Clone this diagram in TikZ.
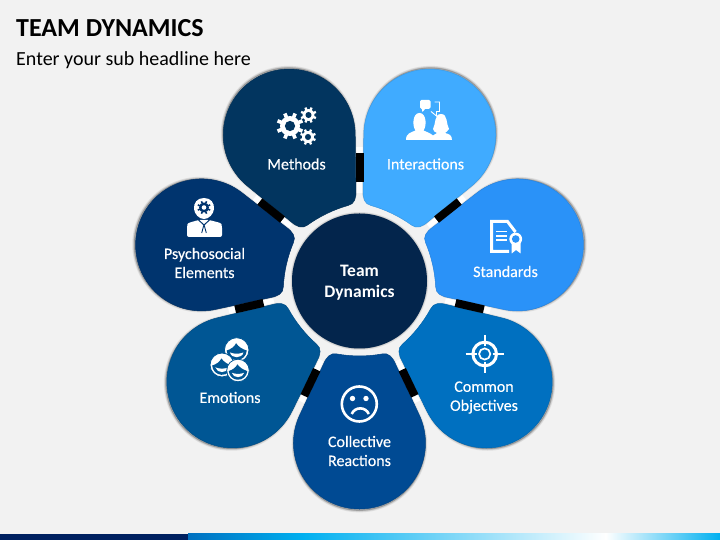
\documentclass[tikz,border=0pt]{standalone}
\usepackage{fontspec}
\setmainfont{Carlito}
\newfontfamily\labfont{Carlito}[BoldFont=Carlito,BoldFeatures={FakeBold=0.35}]
\usetikzlibrary{calc}
\definecolor{bgc}{HTML}{F2F2F2}
\definecolor{cMeth}{HTML}{02355F}
\definecolor{cInter}{HTML}{40ABFF}
\definecolor{cStand}{HTML}{2A92F8}
\definecolor{cComm}{HTML}{0070C0}
\definecolor{cColl}{HTML}{004A93}
\definecolor{cEmo}{HTML}{005694}
\definecolor{cPsy}{HTML}{00346E}
\definecolor{cHub}{HTML}{03254C}
\definecolor{cNavy}{HTML}{002060}
\definecolor{cCyan}{HTML}{00B0F0}
\tikzset{
  lab/.style={text=white,align=center,font=\labfont\bfseries\fontsize{16}{19}\selectfont,inner sep=0pt},
  hublab/.style={text=white,align=center,font=\bfseries\fontsize{17.5}{21}\selectfont,inner sep=0pt},
  barline/.style={draw=black,line width=8pt},
  barhalo/.style={draw=white,line width=7.5pt},
}
\newcommand{\petalshape}{(59.47,133.37) arc (-25.71:205.71:66) -- (-36.2,83.5) .. controls (-33,76) and (-29,71.5) .. (-22.5,73) .. controls (-8,75.6) and (8,75.6) .. (22.5,73) .. controls (29,71.5) and (33,76) .. (36.2,83.5) -- cycle}
\newcommand{\petal}[2]{%
  \begin{scope}[shift={(hub)},rotate=#1]
    \foreach \w in {3.5,2,.8}{\fill[black,opacity=.08,draw=black,line width=\w pt,line join=round] [shift={(0,1.6)}] \petalshape;}
    \fill[#2,draw=#2!90!black,line width=.5pt] \petalshape;
  \end{scope}}
\newcommand{\gearicon}[5]{%
  \fill[white] (#1,#2) circle ({.74*#3});
  \foreach \a in {0,45,...,315}{\draw[white,line width=#4pt] (#1,#2) ++(\a+22.5:{.6*#3}) -- ++(\a+22.5:{.4*#3});}
  \fill[#5] (#1,#2) circle ({.38*#3});}
\newcommand{\facehead}[4]{%
  \begin{scope}[shift={(#1,#2)},scale=#3]
    \fill[white,draw=#4,line width=.8pt] (0,0) circle (1);
    \fill[#4] (-.82,.05) .. controls (-.45,-.08) and (-.2,-.25) .. (-.05,-.55) .. controls (.15,-.25) and (.45,-.08) .. (.82,.05) arc (3.5:176.5:.82) -- cycle;
    \fill[white] (-.55,.2) .. controls (-.2,.34) and (.2,.34) .. (.55,.2) .. controls (.42,.72) and (-.42,.72) .. (-.55,.2) -- cycle;
  \end{scope}}
\begin{document}
\begin{tikzpicture}[x=1pt,y=1pt]
\useasboundingbox (0,0) rectangle (720,540);
\fill[bgc] (0,0) rectangle (720,540);
% bottom band
\fill[cNavy] (0,0) rectangle (188,6);
\shade[left color=cComm,right color=cCyan] (188,0) rectangle (303.5,6);
\shade[left color=cCyan,right color=white] (303,0) rectangle (606,6);
\shade[left color=white,right color=cCyan] (605.5,0) rectangle (720,6);
\coordinate (hub) at (359.5,259);
% title
\node[anchor=base west,inner sep=0pt,font=\bfseries\fontsize{26}{30}\selectfont] (title) at (16,503.5) {TEAM DYNAMICS};
\node[anchor=base west,inner sep=0pt,font=\fontsize{20}{24}\selectfont] (subtitle) at (16,474) {Enter your sub headline here};
% spokes
\foreach \i/\a in {1/0,2/51.43,3/102.86,4/154.29,5/205.71,6/257.14,7/308.57}{
  \path (hub) ++(90+\a:98.5) coordinate (bar\i a);
  \path (hub) ++(90+\a:127.5) coordinate (bar\i b);
  \path (hub) ++(90+\a:88) coordinate (halo\i a);
  \path (hub) ++(90+\a:134) coordinate (halo\i b);
  \draw[barhalo] (halo\i a) -- (halo\i b);
}
% petals
\petal{25.71}{cMeth}
\petal{77.14}{cPsy}
\petal{128.57}{cEmo}
\petal{180}{cColl}
\petal{231.43}{cComm}
\petal{282.86}{cStand}
\petal{334.29}{cInter}
\foreach \i in {1,...,7}{\draw[barline] (bar\i a) -- (bar\i b);}
% hub
\foreach \w in {3,1.5}{\fill[black,opacity=.08,draw=black,line width=\w pt] (hub) circle (67.5);}
\node[circle,fill=cHub,minimum size=135pt,inner sep=0pt] (hubnode) at (hub) {};
% labels
\node[hublab] (lhub) at (359.5,257.5) {Team\\Dynamics};
\node[lab] (l1) at (296.5,376) {Methods};
\node[lab] (l2) at (425.5,376) {Interactions};
\node[lab] (l3) at (505.5,268.5) {Standards};
\node[lab] (l4) at (484,142.5) {Common\\Objectives};
\node[lab] (l5) at (359.5,89) {Collective\\Reactions};
\node[lab] (l6) at (230,142.5) {Emotions};
\node[lab] (l7) at (204.5,277) {Psychosocial\\Elements};
% icons (y downwards, image pixels)
\begin{scope}[shift={(0,540)},y=-1pt]
  % gears
  \gearicon{290}{126}{13.5}{3.6}{cMeth}
  \gearicon{308.5}{115}{8}{2.3}{cMeth}
  \gearicon{308}{137}{8}{2.3}{cMeth}
  % interactions
  \fill[white] (406,140) .. controls (406,133) and (411,132.5) .. (415.5,130.5) .. controls (412,126) and (412.5,113) .. (419.5,113) .. controls (426.5,113) and (427,126) .. (423.5,130.5) .. controls (427,132) and (431,133.5) .. (433,135.5) -- (437,133) .. controls (435,132) and (433,131) .. (433,129) .. controls (436,124) and (434,114) .. (441,114) .. controls (448,114) and (446,124) .. (449,129) .. controls (448,131) and (446,132) .. (445,133) .. controls (449,134) and (452,135) .. (452,140) -- cycle;
  \fill[white,rounded corners=1.5pt] (420,100) rectangle (430.5,109);
  \fill[white] (421.5,108) -- (422.5,112) -- (426,108) -- cycle;
  \draw[white,line width=.9pt] (434.5,102) -- (439.5,102) -- (439.5,111.5) -- (436.5,111.5) -- (436.5,116) -- (431,111.5);
  % psychosocial
  \fill[white] (204,198) .. controls (211,198) and (214.5,203) .. (214,209) .. controls (213.5,214) and (209,219) .. (204,219) .. controls (199,219) and (194.5,214) .. (194,209) .. controls (193.5,203) and (197,198) .. (204,198) -- cycle;
  \fill[cPsy] (204,207.5) circle (5);
  \foreach \a in {0,45,...,315}{\draw[cPsy,line width=1.6pt] (204,207.5) ++(\a+22.5:4.5) -- ++(\a+22.5:2.2);}
  \fill[white] (204,207.5) circle (2.3);
  \fill[white,rounded corners=2pt] (187,237) -- (187,226) .. controls (188,222.5) and (194,221.5) .. (198,220) -- (210,220) .. controls (214,221.5) and (221,222.5) .. (222,226) -- (222,237) -- cycle;
  \draw[cPsy,line width=1pt] (198.5,220) -- (204,225) -- (209.5,220);
  \draw[cPsy,line width=.9pt] (204,224.5) -- (201.7,233) (204,224.5) -- (206.3,233);
  % standards
  \draw[white,line width=3pt,line join=miter] (509,251.5) -- (491.5,251.5) -- (491.5,221.5) -- (507.5,221.5) -- (515.5,232);
  \draw[white,line width=1.6pt] (496,231.7) -- (507,231.7) (496,235.8) -- (507,235.8) (496,240) -- (507,240);
  \fill[white] (511.7,242) -- (511.7,253.5) -- (516,250) -- (520.7,253.5) -- (520.7,242) -- cycle;
  \fill[white] (515.7,239) circle (6.4);
  \fill[cStand] (515.7,239) circle (3.8);
  % target
  \draw[white,line width=3pt] (484.7,354) circle (11.8);
  \draw[white,line width=1.7pt] (484.7,354) circle (5.6);
  \draw[white,line width=2.2pt] (484.7,335) -- (484.7,346) (484.7,362) -- (484.7,373) (465.7,354) -- (476.7,354) (492.7,354) -- (503.7,354);
  % sad face
  \draw[white,line width=2.6pt] (359.3,404) circle (17.5);
  \fill[white] (352.5,398.5) circle (2.7) (366,398.5) circle (2.7);
  \draw[white,line width=2.6pt] (351.7,414) .. controls (355,406.5) and (365.5,406.5) .. (368.8,414);
  % emotions
  \facehead{236.7}{350}{12.3}{cEmo}
  \facehead{222}{365}{12}{cEmo}
  \facehead{238}{370.5}{11.3}{cEmo}
\end{scope}
\end{tikzpicture}
\end{document}
